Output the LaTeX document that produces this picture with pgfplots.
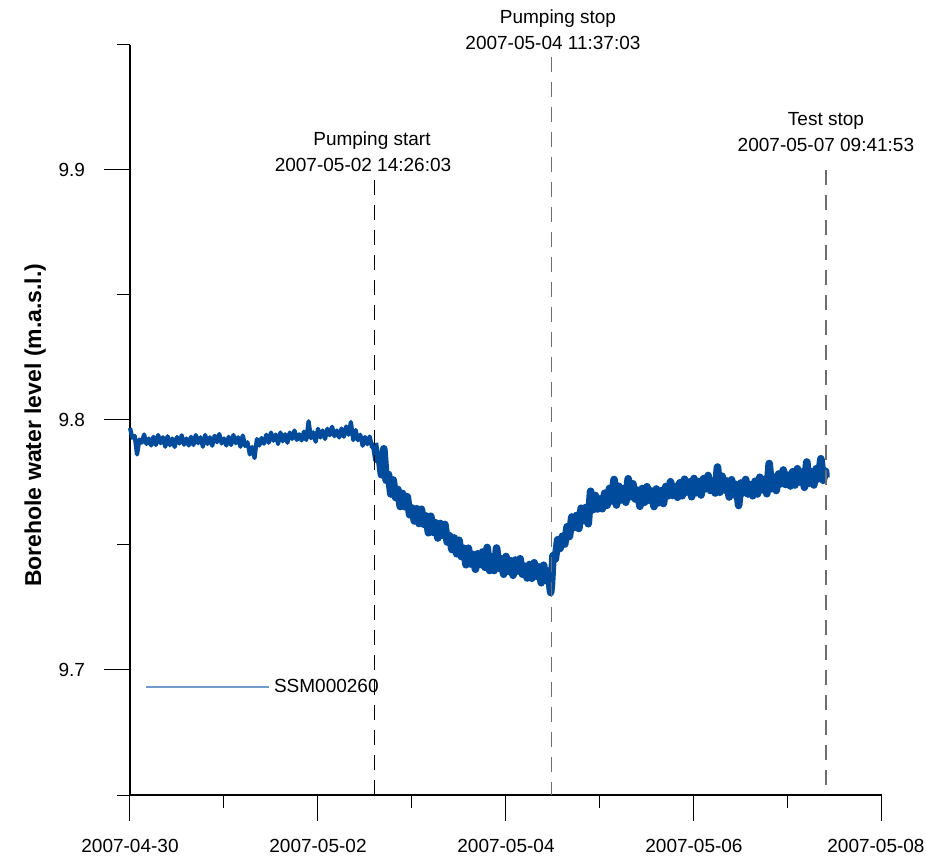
\documentclass[border=0pt]{standalone}
\usepackage{fontspec}
\setmainfont{Liberation Sans}
\usepackage{pgfplots}
\pgfplotsset{compat=1.18}
\usepackage{pgfplotstable}

\definecolor{levelblue}{RGB}{0,75,155}
\definecolor{legendblue}{RGB}{115,155,205}
\definecolor{eventgray}{RGB}{110,110,110}

\newcommand{\annfont}{\fontsize{9.5}{11}\selectfont}

% Borehole SSM000260: time in days after 2007-04-30 00:00, level in m.a.s.l.
\pgfplotstableread{
d y
0.000 9.7968
0.025 9.7929
0.050 9.7936
0.075 9.7862
0.100 9.7922
0.125 9.7909
0.150 9.7942
0.175 9.7904
0.200 9.7926
0.225 9.7898
0.250 9.7933
0.275 9.7900
0.300 9.7940
0.325 9.7907
0.350 9.7931
0.375 9.7893
0.400 9.7935
0.425 9.7899
0.450 9.7926
0.475 9.7892
0.500 9.7932
0.525 9.7906
0.550 9.7939
0.575 9.7901
0.600 9.7926
0.625 9.7898
0.650 9.7933
0.675 9.7900
0.700 9.7940
0.725 9.7907
0.750 9.7931
0.775 9.7893
0.800 9.7940
0.825 9.7904
0.850 9.7931
0.875 9.7897
0.900 9.7937
0.925 9.7911
0.950 9.7944
0.975 9.7906
1.000 9.7926
1.025 9.7898
1.050 9.7933
1.075 9.7900
1.100 9.7940
1.125 9.7907
1.150 9.7931
1.175 9.7893
1.200 9.7938
1.225 9.7896
1.250 9.7911
1.275 9.7862
1.300 9.7892
1.325 9.7848
1.350 9.7924
1.375 9.7898
1.400 9.7928
1.425 9.7905
1.450 9.7941
1.475 9.7909
1.500 9.7950
1.525 9.7917
1.550 9.7942
1.575 9.7904
1.600 9.7950
1.625 9.7915
1.650 9.7943
1.675 9.7909
1.700 9.7950
1.725 9.7924
1.750 9.7958
1.775 9.7920
1.800 9.7943
1.825 9.7918
1.850 9.7953
1.875 9.7920
1.900 9.7995
1.925 9.7927
1.950 9.7951
1.975 9.7913
2.000 9.7965
2.025 9.7930
2.050 9.7958
2.075 9.7924
2.100 9.7965
2.125 9.7939
2.150 9.7973
2.175 9.7935
2.200 9.7958
2.225 9.7930
2.250 9.7966
2.275 9.7933
2.300 9.7974
2.325 9.7941
2.350 9.7992
2.375 9.7920
2.400 9.7960
2.425 9.7919
2.450 9.7941
2.475 9.7897
2.500 9.7932
2.525 9.7903
2.550 9.7934
2.575 9.7891
2.600 9.7908
2.625 9.7843
2.650 9.7859
2.675 9.7781
2.700 9.7885
2.725 9.7759
2.750 9.7782
2.775 9.7704
2.800 9.7760
2.825 9.7690
2.850 9.7722
2.875 9.7654
2.900 9.7706
2.925 9.7653
2.950 9.7693
2.975 9.7621
3.000 9.7648
3.025 9.7596
3.050 9.7645
3.075 9.7586
3.100 9.7643
3.125 9.7583
3.150 9.7616
3.175 9.7549
3.200 9.7615
3.225 9.7551
3.250 9.7589
3.275 9.7528
3.300 9.7586
3.325 9.7539
3.350 9.7582
3.375 9.7512
3.400 9.7537
3.425 9.7482
3.450 9.7528
3.475 9.7465
3.500 9.7519
3.525 9.7454
3.550 9.7487
3.575 9.7421
3.600 9.7487
3.625 9.7424
3.650 9.7462
3.675 9.7403
3.700 9.7465
3.725 9.7422
3.750 9.7472
3.775 9.7411
3.800 9.7490
3.825 9.7398
3.850 9.7452
3.875 9.7398
3.900 9.7488
3.925 9.7407
3.950 9.7445
3.975 9.7383
4.000 9.7454
4.025 9.7395
4.050 9.7437
4.075 9.7379
4.100 9.7440
4.125 9.7396
4.150 9.7445
4.175 9.7383
4.200 9.7415
4.225 9.7368
4.250 9.7422
4.275 9.7367
4.300 9.7429
4.325 9.7375
4.350 9.7412
4.375 9.7349
4.400 9.7419
4.425 9.7358
4.450 9.7396
4.475 9.7310
4.484 9.7345
4.500 9.7457
4.525 9.7444
4.550 9.7521
4.575 9.7486
4.600 9.7535
4.625 9.7504
4.650 9.7573
4.675 9.7534
4.700 9.7612
4.725 9.7570
4.750 9.7618
4.775 9.7566
4.800 9.7647
4.825 9.7598
4.850 9.7650
4.875 9.7585
4.900 9.7715
4.925 9.7641
4.950 9.7698
4.975 9.7644
5.000 9.7684
5.025 9.7645
5.050 9.7707
5.075 9.7659
5.100 9.7726
5.125 9.7676
5.150 9.7762
5.175 9.7660
5.200 9.7735
5.225 9.7680
5.250 9.7726
5.275 9.7671
5.300 9.7765
5.325 9.7693
5.350 9.7745
5.375 9.7684
5.400 9.7719
5.425 9.7655
5.450 9.7726
5.475 9.7671
5.500 9.7733
5.525 9.7679
5.550 9.7716
5.575 9.7654
5.600 9.7724
5.625 9.7669
5.650 9.7717
5.675 9.7666
5.700 9.7734
5.725 9.7697
5.750 9.7753
5.775 9.7698
5.800 9.7734
5.825 9.7691
5.850 9.7749
5.875 9.7697
5.900 9.7763
5.925 9.7712
5.950 9.7752
5.975 9.7693
6.000 9.7766
6.025 9.7709
6.050 9.7754
6.075 9.7700
6.100 9.7765
6.125 9.7725
6.150 9.7778
6.175 9.7718
6.200 9.7753
6.225 9.7708
6.250 9.7812
6.275 9.7711
6.300 9.7775
6.325 9.7720
6.350 9.7756
6.375 9.7692
6.400 9.7761
6.425 9.7701
6.450 9.7742
6.475 9.7658
6.500 9.7748
6.525 9.7709
6.550 9.7762
6.575 9.7704
6.600 9.7741
6.625 9.7697
6.650 9.7755
6.675 9.7704
6.700 9.7771
6.725 9.7721
6.750 9.7763
6.775 9.7705
6.800 9.7826
6.825 9.7725
6.850 9.7771
6.875 9.7718
6.900 9.7784
6.925 9.7745
6.950 9.7800
6.975 9.7742
7.000 9.7779
7.025 9.7736
7.050 9.7793
7.075 9.7740
7.100 9.7805
7.125 9.7752
7.150 9.7792
7.175 9.7731
7.200 9.7832
7.225 9.7747
7.250 9.7793
7.275 9.7740
7.300 9.7805
7.325 9.7765
7.350 9.7845
7.375 9.7759
7.400 9.7795
7.404 9.7770
}\levels

\begin{document}
\begin{tikzpicture}
\begin{axis}[
  at={(0,0)}, anchor=south west,
  scale only axis, width=376pt, height=375pt,
  xmin=0, xmax=8, ymin=9.65, ymax=9.95,
  axis x line*=bottom, axis y line*=left,
  axis line style={black, line width=0.6pt},
  tick align=outside,
  major tick length=13pt, minor tick length=6.5pt,
  every tick/.style={black, line width=0.5pt},
  xtick={0,2,4,6,8},
  xticklabels={2007-04-30,2007-05-02,2007-05-04,2007-05-06,\hspace*{-6pt}2007-05-08},
  minor xtick={1,3,5,7},
  ytick={9.7,9.8,9.9},
  yticklabels={9.7,9.8,9.9},
  minor ytick={9.65,9.75,9.85,9.95},
  tick label style={font=\fontsize{9.5}{11}\selectfont},
  xticklabel style={yshift=-5.5pt},
  yticklabel style={xshift=-6pt},
  /pgf/number format/assume math mode=true,
  ylabel={Borehole water level (m.a.s.l.)},
  ylabel style={font=\fontsize{11.5}{13}\selectfont\bfseries,
    at={(axis description cs:-0.126,0.493)}, anchor=center},
  clip=false,
  legend style={draw=none, fill=none, at={(axis cs:0.16,9.6932)}, anchor=west,
    font=\fontsize{9.5}{11}\selectfont, inner sep=0pt},
  legend image code/.code={\draw[#1] (0pt,0pt) -- (59pt,0pt); \path (0pt,0pt) -- (61.5pt,0pt);},
]
% natural level before pumping
\addplot[levelblue, line width=2.1pt, line join=round, forget plot,
  restrict x to domain=0:2.6] table[x=d, y=y] {\levels};
% drawdown and recovery
\addplot[levelblue, line width=3.8pt, line join=round, forget plot,
  restrict x to domain=2.6:7.5] table[x=d, y=y] {\levels};

% event markers
\addplot[black, line width=0.6pt, dash pattern=on 7.5pt off 5pt, forget plot]
  coordinates {(2.601,9.896) (2.601,9.65)};
\addplot[eventgray, line width=0.6pt, dash pattern=on 7.5pt off 5pt, forget plot]
  coordinates {(4.484,9.9452) (4.484,9.65)};
\addplot[eventgray, line width=0.6pt, dash pattern=on 7.5pt off 5pt, forget plot]
  coordinates {(7.404,9.900) (7.404,9.65)};

\node[anchor=base, font=\annfont] at (axis cs:2.574,9.9096) {Pumping start};
\node[anchor=base, font=\annfont] at (axis cs:2.479,9.8992) {2007-05-02 14:26:03};
\node[anchor=base, font=\annfont] at (axis cs:4.553,9.9584) {Pumping stop};
\node[anchor=base, font=\annfont] at (axis cs:4.500,9.9480) {2007-05-04 11:37:03};
\node[anchor=base, font=\annfont] at (axis cs:7.404,9.9176) {Test stop};
\node[anchor=base, font=\annfont] at (axis cs:7.404,9.9072) {2007-05-07 09:41:53};

\addlegendimage{legendblue, line width=0.8pt}
\addlegendentry{SSM000260}
\end{axis}
\pgfresetboundingbox
\path (-65pt,-30.5pt) rectangle (398pt,397.5pt);
\end{tikzpicture}
\end{document}
